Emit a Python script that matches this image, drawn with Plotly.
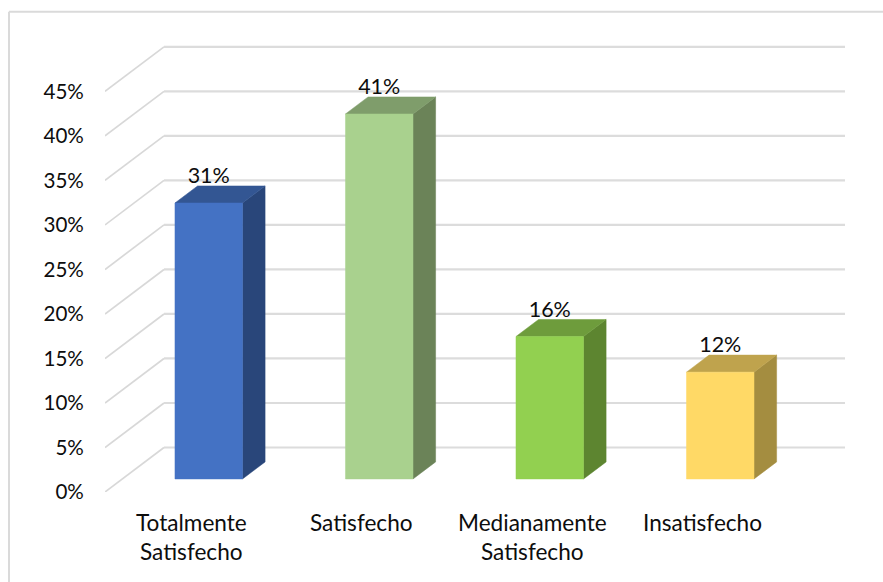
import plotly.graph_objects as go

# Survey results
CATEGORIES = [["Totalmente", "Satisfecho"], ["Satisfecho"], ["Medianamente", "Satisfecho"], ["Insatisfecho"]]
VALUES = [31, 41, 16, 12]
Y_TICKS = [0, 5, 10, 15, 20, 25, 30, 35, 40, 45]

FRONT_COLORS = ["#4472c4", "#a9d18e", "#92d050", "#ffd966"]
TOP_COLORS = ["#335693", "#7f9d6b", "#6e9c3c", "#bfa34d"]
SIDE_COLORS = ["#29467a", "#6b8358", "#5d8530", "#a48d40"]

GRID = "#dcdcdc"
TEXT = "#0d0d0d"
FONT = "Lato"
W, H = 883, 582

# Plot area on the front plane of the 3D box, with headroom above the top gridline
L, R, T, B = 105, 38, 38.3, 90
X_RANGE = [-0.507, 3.833]
Y_RANGE = [0, 51]

# Oblique projection: how far the back wall is shifted, in axis units
DEPTH_X = 0.346
DEPTH_Y = 5.0
# Where the bars sit along the depth of the box, as fractions of it
BAR_FRONT = 0.293
BAR_BACK = 0.676
HALF_W = 0.198


def project(x, y, d):
    """Map a point at depth d (0 front, 1 back) to axis coordinates."""
    return x + d * DEPTH_X, y + d * DEPTH_Y


def polygon(points, color):
    xs = [p[0] for p in points] + [points[0][0]]
    ys = [p[1] for p in points] + [points[0][1]]
    return go.Scatter(x=xs, y=ys, mode="lines", fill="toself", fillcolor=color,
                      line=dict(color=color, width=0.5), hoverinfo="skip", showlegend=False)


fig = go.Figure()

# Floor-to-wall diagonals and back wall gridlines
for t in Y_TICKS:
    a = project(X_RANGE[0], t, 0)
    b = project(X_RANGE[0], t, 1)
    c = (X_RANGE[1], b[1])
    fig.add_trace(go.Scatter(x=[a[0], b[0]], y=[a[1], b[1]], mode="lines", cliponaxis=False,
                             line=dict(color="#d8d8d8", width=1.7), hoverinfo="skip", showlegend=False))
    fig.add_trace(go.Scatter(x=[b[0], c[0]], y=[b[1], c[1]], mode="lines", cliponaxis=False,
                             line=dict(color=GRID, width=2.2), hoverinfo="skip", showlegend=False))

# Bars as three visible faces
for i, v in enumerate(VALUES):
    x0, x1 = i - HALF_W, i + HALF_W
    fb0, ft0, ft1, fb1 = (project(x0, 0, BAR_FRONT), project(x0, v, BAR_FRONT),
                          project(x1, v, BAR_FRONT), project(x1, 0, BAR_FRONT))
    bt0, bt1, bb1 = project(x0, v, BAR_BACK), project(x1, v, BAR_BACK), project(x1, 0, BAR_BACK)
    fig.add_trace(polygon([fb1, ft1, bt1, bb1], SIDE_COLORS[i]))
    fig.add_trace(polygon([ft0, bt0, bt1, ft1], TOP_COLORS[i]))
    fig.add_trace(polygon([fb0, ft0, ft1, fb1], FRONT_COLORS[i]))

# Value labels just above the bars' front top edge
label_pos = [project(i, v, BAR_FRONT) for i, v in enumerate(VALUES)]
fig.add_trace(go.Scatter(x=[p[0] for p in label_pos], y=[p[1] + 2.85 for p in label_pos],
                         mode="text", text=[f"{v}%" for v in VALUES],
                         textposition="middle center", textfont=dict(family=FONT, size=21.5, color=TEXT),
                         cliponaxis=False, hoverinfo="skip", showlegend=False))

# Category labels, one annotation per line for the wide line pitch
annotations = []
for i, lines in enumerate(CATEGORIES):
    for k, line in enumerate(lines):
        annotations.append(dict(x=i, y=0, xref="x", yref="y", text=line, showarrow=False,
                                yshift=-(30 + 29 * k), yanchor="middle", xanchor="center",
                                font=dict(family=FONT, size=22.6, color=TEXT)))

plot_w = W - L - R
plot_h = H - T - B
fx = lambda px: (px - L) / plot_w
fy = lambda py: (H - B - py) / plot_h

fig.update_layout(
    width=W, height=H, autosize=False,
    margin=dict(l=L, r=R, t=T, b=B, pad=0),
    paper_bgcolor="white", plot_bgcolor="white",
    showlegend=False,
    xaxis=dict(range=X_RANGE, showgrid=False, zeroline=False, showline=False,
               showticklabels=False, ticks="", fixedrange=True),
    yaxis=dict(range=Y_RANGE, showgrid=False, zeroline=False, showline=False,
               tickmode="array", tickvals=Y_TICKS, ticktext=[f"{t}%" for t in Y_TICKS],
               ticks="outside", ticklen=16, tickcolor="rgba(0,0,0,0)",
               tickfont=dict(family=FONT, size=20.6, color=TEXT), fixedrange=True),
    annotations=annotations,
    # Chart frame: only its left and top edges fall within the page
    shapes=[dict(type="line", xref="paper", yref="paper", x0=fx(9), x1=fx(9), y0=fy(H), y1=fy(12),
                 line=dict(color="#dadada", width=2)),
            dict(type="line", xref="paper", yref="paper", x0=fx(9), x1=fx(W), y0=fy(12), y1=fy(12),
                 line=dict(color="#dadada", width=2))],
)

fig.write_html("out.html", config={"displayModeBar": False})
